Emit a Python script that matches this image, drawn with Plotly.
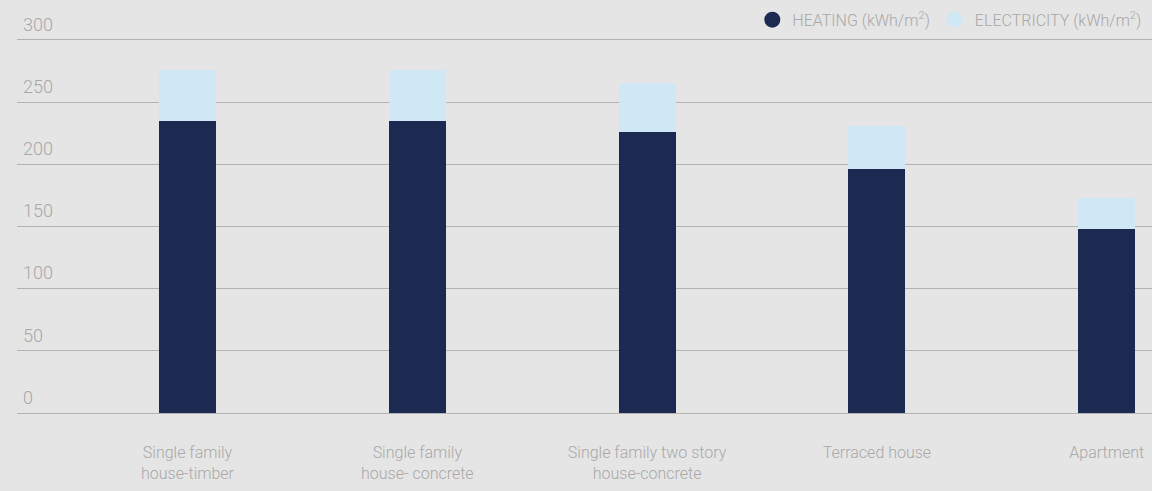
import plotly.graph_objects as go

categories = ["Single family<br>house-timber", "Single family<br>house- concrete",
              "Single family two story<br>house-concrete", "Terraced house", "Apartment"]
heating = [235, 235, 226, 196, 148]
electricity = [41, 41, 39, 35, 25]
y_ticks = [0, 50, 100, 150, 200, 250, 300]

DARK = "#1c2a52"
LIGHT = "#d0e7f5"
TXT = "#a8a8a8"
FONT = "Roboto, sans-serif"

fig = go.Figure()
fig.add_trace(go.Bar(x=categories, y=heating, marker=dict(color=DARK, line=dict(width=0)),
                     width=0.248, showlegend=False, name="HEATING"))
fig.add_trace(go.Bar(x=categories, y=electricity, marker=dict(color=LIGHT, line=dict(width=0)),
                     width=0.248, showlegend=False, name="ELECTRICITY"))
# legend entries with circle markers
fig.add_trace(go.Scatter(x=[None], y=[None], mode="markers",
                         marker=dict(symbol="circle", size=17, color=DARK),
                         name="HEATING (kWh/m<sup>2</sup>)"))
fig.add_trace(go.Scatter(x=[None], y=[None], mode="markers",
                         marker=dict(symbol="circle", size=17, color=LIGHT),
                         name="ELECTRICITY (kWh/m<sup>2</sup>)"))

fig.update_layout(
    width=1152, height=491,
    barmode="stack",
    paper_bgcolor="#e5e5e5", plot_bgcolor="#e5e5e5",
    margin=dict(l=17, r=0, t=10, b=78, autoexpand=False),
    font=dict(family=FONT, color=TXT, size=16, weight=300),
    legend=dict(orientation="h", x=0.995, xanchor="right", y=1.018, yanchor="top",
                bgcolor="rgba(0,0,0,0)", traceorder="normal",
                font=dict(size=16, color=TXT, family=FONT, weight=300), itemsizing="trace"),
    xaxis=dict(type="category", range=[-0.742, 4.197], showgrid=False,
               showline=False, ticks="outside", ticklen=25, tickcolor="rgba(0,0,0,0)",
               tickfont=dict(size=16, color=TXT, family=FONT, weight=300), zeroline=False),
    yaxis=dict(range=[0, 324.1], tickvals=y_ticks, showgrid=True, gridcolor="#b3b3b3",
               gridwidth=1, zeroline=True, zerolinecolor="#b3b3b3", zerolinewidth=1,
               ticklabelposition="inside top", ticklabelstandoff=3, ticklabelshift=-3,
               tickfont=dict(size=18, color=TXT, family=FONT, weight=300),
               showline=False),
)

fig.write_html("out.html")
